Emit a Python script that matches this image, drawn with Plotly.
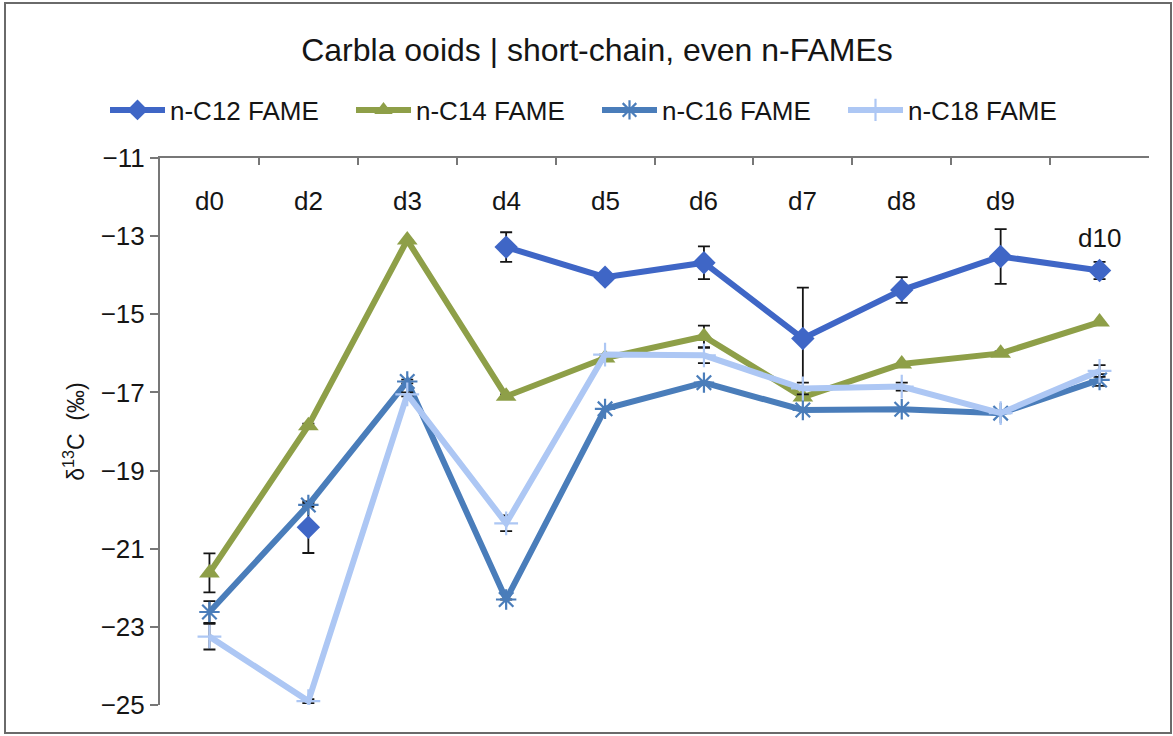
import plotly.graph_objects as go

# Sampling days
days = ["d0", "d2", "d3", "d4", "d5", "d6", "d7", "d8", "d9", "d10"]

# delta13C (permil) per FAME, with standard deviations
c12 = [None, -20.45, None, -13.28, -14.05, -13.68, -15.62, -14.38, -13.52, -13.88]
c12_sd = [None, 0.66, None, 0.38, 0.0, 0.42, 1.30, 0.33, 0.70, 0.22]

c14 = [-21.62, -17.85, -13.10, -17.10, -16.12, -15.57, -17.12, -16.27, -16.00, -15.20]
c14_sd = [0.50, 0.05, 0.0, 0.05, 0.0, 0.28, 0.0, 0.0, 0.05, 0.0]

c16 = [-22.62, -19.88, -16.72, -22.30, -17.42, -16.75, -17.45, -17.43, -17.53, -16.68]
c16_sd = [0.28, 0.05, 0.05, 0.0, 0.0, 0.0, 0.0, 0.0, 0.0, 0.15]

c18 = [-23.25, -24.90, -17.05, -20.35, -16.03, -16.05, -16.90, -16.85, -17.53, -16.45]
c18_sd = [0.33, 0.05, 0.05, 0.20, 0.0, 0.20, 0.15, 0.10, 0.0, 0.15]

series_names = ["n-C12 FAME", "n-C14 FAME", "n-C16 FAME", "n-C18 FAME"]

W, H = 1173, 736
L, R, T, B = 160, 24, 158, 31
PW, PH = W - L - R, H - T - B


def px_x(p):
    return (p - L) / PW


def px_y(p):
    return (H - B - p) / PH


FONT = "Liberation Sans, Arial, sans-serif"
INK = "#151515"
styles = [
    dict(color="#3F66C6", symbol="diamond", size=18, mline=0),
    dict(color="#8E9F48", symbol="triangle-up", size=18, mline=0),
    dict(color="#4A7DBA", symbol="asterisk-open", size=17, mline=2.2),
    dict(color="#ADC7F4", symbol="cross-thin-open", size=17, mline=2.2),
]

fig = go.Figure()
for name, ys, sd, st in zip(series_names, [c12, c14, c16, c18],
                            [c12_sd, c14_sd, c16_sd, c18_sd], styles):
    fig.add_trace(go.Scatter(
        x=days, y=ys, name=name, mode="lines+markers",
        connectgaps=False,
        line=dict(color=st["color"], width=6),
        marker=dict(symbol=st["symbol"], size=st["size"], color=st["color"],
                    line=dict(color=st["color"], width=st["mline"])),
        error_y=dict(type="data", array=sd, visible=True,
                     color=INK, thickness=1.8, width=6),
    ))

# Day labels inside the plot
for d in days:
    fig.add_annotation(x=d, y=-13.05 if d == "d10" else -12.1, text=d,
                       showarrow=False, font=dict(family=FONT, size=26, color=INK),
                       xref="x", yref="y")

# Outer frame
fig.add_shape(type="rect", xref="paper", yref="paper",
              x0=px_x(5), x1=px_x(1171), y0=px_y(733), y1=px_y(3),
              line=dict(color="#6a6a6a", width=2), layer="below")

fig.update_layout(
    width=W, height=H,
    margin=dict(l=L, r=R, t=T, b=B),
    paper_bgcolor="white", plot_bgcolor="white",
    font=dict(family=FONT, color=INK),
    title=dict(text="Carbla ooids | short-chain, even n-FAMEs",
               x=597 / W, xanchor="center", y=1 - 50 / H, yanchor="middle",
               font=dict(family=FONT, size=32, color=INK)),
    showlegend=True,
    legend=dict(orientation="h", x=px_x(105), xanchor="left",
                y=px_y(110), yanchor="middle",
                font=dict(family=FONT, size=26, color=INK),
                itemwidth=55, entrywidth=176, entrywidthmode="pixels",
                bgcolor="rgba(0,0,0,0)", traceorder="normal"),
    xaxis=dict(type="category", side="top", showline=True, linecolor="#777777",
               linewidth=2, ticks="inside", tickson="boundaries", ticklen=7,
               tickcolor="#777777", tickwidth=2, showticklabels=False,
               showgrid=False, zeroline=False, range=[-0.5, 9.5]),
    yaxis=dict(range=[-25, -11], dtick=2, tick0=-25, showline=True,
               linecolor="#777777", linewidth=2, ticks="outside", ticklen=8,
               tickcolor="#777777", tickwidth=2, showgrid=False, zeroline=False,
               tickfont=dict(family=FONT, size=26, color=INK),
               title=dict(text="δ<sup>13</sup>C  (‰)", standoff=10,
                          font=dict(family=FONT, size=23, color=INK))),
)

fig.write_html("out.html")
